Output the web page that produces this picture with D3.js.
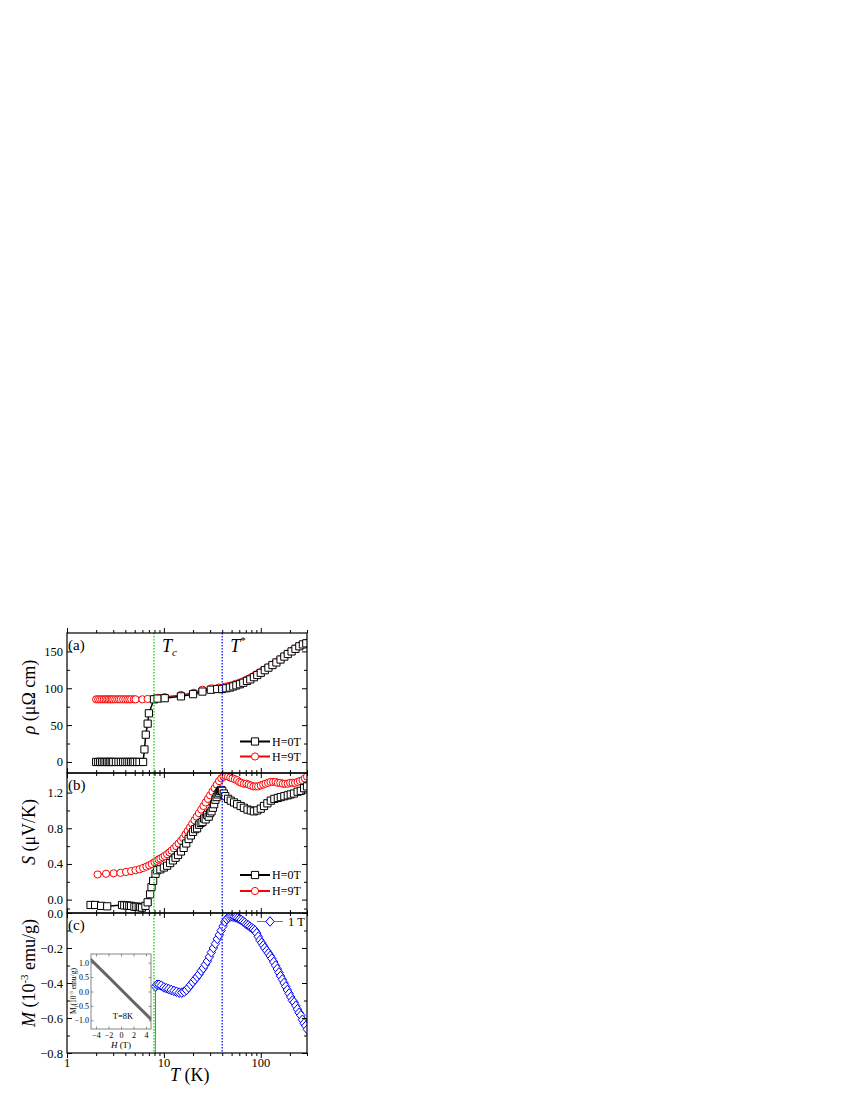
<!DOCTYPE html>
<html>
<head>
<meta charset="utf-8">
<script src="https://cdn.jsdelivr.net/npm/d3@7"></script>
<style>
  body { margin: 0; background: #fff; }
  svg text { font-family: "Liberation Serif", "DejaVu Serif", serif !important; fill: #000; }
</style>
</head>
<body>
<div id="chart"></div>
<script>
// ---- data ----
var tempRhoH0 = [2.0,2.1,2.2,2.3,2.4,2.5,2.6,2.7,2.8,2.9,3.0,3.2,3.4,3.6,3.8,4.0,4.2,4.4,4.6,4.8,5.0,5.3,5.6,6.1,6.3,6.5,6.8,7.0,7.9,8.6,10.2,15,20,25,30.5,35.5,40,44,48,52,56,61,66,72,78,85,92,100,110,120,132,145,160,175,190,208,228,250,272,295];
var rhoH0 = [0,0,0,0,0,0,0,0,0,0,0,0,0,0,0,0,0,0,0,0,0,0,0,0,17,37,52,66,85,86,86.5,89,92,95.5,98,99,99,100,101,102.5,104,105.5,107.5,110,112,115,118,121,124.5,128,131.5,135,139,143,146.5,150,153.5,157,159.5,161];
var tempRhoH9 = [2.0,2.1,2.2,2.3,2.4,2.5,2.6,2.7,2.8,2.9,3.0,3.15,3.3,3.45,3.6,3.8,4.0,4.2,4.4,4.6,4.9,5.1,6.0,6.8,7.9,8.8,10.2,15,20.4,25,31,37,42,46,50,55,60,66,72,79,87,95,105,116,128,142,157,173,190,210,232,255,280,300];
var rhoH9 = [85,85,85,85,85,85,85,85,85,85,85,85,85,85,85,85,85,85,85,85,85,85,85,85.5,86,87,88,91,94,98,100,101,102,103,104,106,107.5,109.5,112,114.5,117.5,120.5,124,127.5,131,135,139,143,147,151,154.5,157.5,160,162];

var tempSH0 = [1.75,1.95,2.25,2.6,3.7,3.9,4.17,4.4,4.59,4.96,5.2,5.5,5.7,5.95,6.45,6.8,7.2,7.45,7.75,8.2,8.5,9.2,10,10.8,11.6,12.4,13.2,14,15,16,17,18,19,20,21,22,23,24,25,26,27,28,29,30,31,32,33,34,35,36,37,38,39,40,41.5,43,46,49,53,57,62,67,73,79,85,92,100,108,117,127,138,150,161,175,190,204,220,240,259,280,300];
var sH0 = [-0.06,-0.06,-0.07,-0.075,-0.06,-0.065,-0.065,-0.07,-0.07,-0.08,-0.08,-0.08,-0.085,-0.09,-0.07,-0.03,0.06,0.14,0.21,0.29,0.33,0.34,0.36,0.38,0.41,0.44,0.47,0.5,0.54,0.58,0.63,0.68,0.72,0.76,0.79,0.80,0.84,0.86,0.87,0.91,0.90,0.95,0.93,0.97,0.99,1.03,1.07,1.12,1.15,1.18,1.20,1.22,1.23,1.22,1.19,1.16,1.13,1.11,1.09,1.07,1.05,1.03,1.01,1.0,0.99,1.0,1.02,1.05,1.08,1.11,1.13,1.14,1.15,1.16,1.17,1.18,1.19,1.21,1.22,1.25,1.27];
var tempSH9 = [2.07,2.53,3.03,3.56,4.07,4.59,5.09,5.6,6.1,6.6,7.05,7.5,8.0,8.4,8.8,9.2,9.7,10.2,10.8,11.4,12.0,12.7,13.4,14.2,15.0,15.8,16.7,17.6,18.6,19.6,20.7,21.8,23.0,24.3,25.6,27.0,28.5,30.0,31.7,33.4,35.2,37.1,39.1,41.2,43.5,45.9,48.4,51,54,57,60,63,67,71,75,79,84,89,94,100,106,112,119,126,134,142,150,159,169,179,190,201,213,226,240,254,270,285,300];
var sH9 = [0.282,0.29,0.295,0.30,0.31,0.32,0.33,0.34,0.355,0.37,0.385,0.40,0.42,0.435,0.45,0.46,0.475,0.49,0.51,0.53,0.55,0.575,0.60,0.63,0.66,0.69,0.73,0.77,0.81,0.85,0.89,0.93,0.97,1.01,1.05,1.09,1.13,1.17,1.21,1.25,1.29,1.33,1.36,1.38,1.385,1.38,1.37,1.36,1.35,1.34,1.32,1.31,1.30,1.30,1.29,1.28,1.27,1.27,1.27,1.28,1.29,1.30,1.31,1.32,1.32,1.32,1.31,1.31,1.30,1.30,1.30,1.31,1.31,1.31,1.32,1.33,1.34,1.36,1.38];

var tempM = [8.1,8.2,8.5,8.9,9.4,10,10.6,11.2,11.9,12.7,13.5,14.4,15.3,16.2,17.1,18.0,18.9,19.9,20.9,22,23.1,24.3,25.5,26.8,28.1,29.5,30.9,32.4,34,35.6,37.3,39,40.8,42.6,44.5,46.5,48.6,50.8,53,55.3,57.7,60.2,62.8,65.5,68.3,71.2,74.2,77.3,80.5,83.8,87.2,90.7,94.3,98,102,106,110,115,120,125,130,136,142,148,154,160,167,174,181,188,196,204,212,221,230,239,249,259,269,280,291,302];
var magM = [-1.5,-0.42,-0.41,-0.41,-0.415,-0.425,-0.43,-0.435,-0.44,-0.445,-0.45,-0.455,-0.455,-0.45,-0.44,-0.425,-0.41,-0.395,-0.38,-0.365,-0.35,-0.33,-0.315,-0.295,-0.275,-0.25,-0.225,-0.2,-0.175,-0.148,-0.125,-0.1,-0.075,-0.05,-0.035,-0.025,-0.02,-0.02,-0.022,-0.025,-0.03,-0.035,-0.04,-0.048,-0.055,-0.065,-0.07,-0.078,-0.085,-0.092,-0.1,-0.115,-0.135,-0.155,-0.17,-0.185,-0.2,-0.215,-0.23,-0.245,-0.26,-0.28,-0.3,-0.32,-0.34,-0.36,-0.38,-0.4,-0.42,-0.44,-0.46,-0.48,-0.5,-0.51,-0.53,-0.55,-0.57,-0.585,-0.61,-0.63,-0.645,-0.665];

var insetH = [-4.8,-4,-2,0,2,4,4.8];
var insetMUp = [1.13,0.96,0.53,0.10,-0.33,-0.76,-0.93];
var insetMDown = [1.07,0.90,0.47,0.04,-0.39,-0.82,-0.99];

var tcTemp = 7.9, tStarTemp = 40;

var xMajor = [1, 10, 100];
var xMinor = [2,3,4,5,6,7,8,9,20,30,40,50,60,70,80,90,200,300];
var rhoTicks = [0, 50, 100, 150], rhoMinor = [25, 75, 125];
var sTicks = [0.0, 0.4, 0.8, 1.2], sMinor = [-0.1, 0.2, 0.6, 1.0];
var mTicks = [-0.8, -0.6, -0.4, -0.2, 0.0], mMinor = [-0.7, -0.5, -0.3, -0.1];
var insetXTicks = [-4, -2, 0, 2, 4], insetYTicks = [-1.0, -0.5, 0.0, 0.5, 1.0];

// ---- layout ----
var width = 850, height = 1100;
var svg = d3.select("#chart").append("svg")
  .attr("width", width).attr("height", height)
  .attr("font-family", "Liberation Serif, DejaVu Serif, serif");

var x = d3.scaleLog().domain([1, 300]).range([67, 307]);
var panels = [
  {y: d3.scaleLinear().domain([-15, 175]).range([773, 633]), top: 633, bot: 773, major: rhoTicks, minor: rhoMinor, fmt: d3.format("d")},
  {y: d3.scaleLinear().domain([-0.15, 1.42]).range([913, 773]), top: 773, bot: 913, major: sTicks, minor: sMinor, fmt: d3.format(".1f")},
  {y: d3.scaleLinear().domain([-0.8, 0]).range([1053, 913]), top: 913, bot: 1053, major: mTicks, minor: mMinor, fmt: d3.format(".1f")}
];

function pairs(xs, ys) { return xs.map(function(t, i){ return [t, ys[i]]; }); }

panels.forEach(function(p, k) {
  svg.append("clipPath").attr("id", "clip" + k)
    .append("rect").attr("x", 67).attr("y", p.top).attr("width", 240).attr("height", p.bot - p.top);
  p.g = svg.append("g").attr("clip-path", "url(#clip" + k + ")");
});

var squarePath = "M-3.6,-3.6H3.6V3.6H-3.6Z";
var circlePath = d3.symbol().type(d3.symbolCircle).size(Math.PI * 3.6 * 3.6)();
var diamondPath = "M0,-4.8L4.2,0L0,4.8L-4.2,0Z";

function series(g, yScale, data, color, lineColor, shape) {
  var line = d3.line().x(function(d){ return x(d[0]); }).y(function(d){ return yScale(d[1]); });
  g.append("path").datum(data).attr("d", line)
    .attr("fill", "none").attr("stroke", lineColor).attr("stroke-width", 1.5);
  g.selectAll(null).data(data).enter().append("path")
    .attr("d", shape)
    .attr("transform", function(d){ return "translate(" + x(d[0]) + "," + yScale(d[1]) + ")"; })
    .attr("fill", "#fff").attr("stroke", color).attr("stroke-width", 1);
}

series(panels[0].g, panels[0].y, pairs(tempRhoH9, rhoH9), "#ff0000", "#ff0000", circlePath);
series(panels[0].g, panels[0].y, pairs(tempRhoH0, rhoH0), "#000", "#000", squarePath);
series(panels[1].g, panels[1].y, pairs(tempSH9, sH9), "#ff0000", "#ff0000", circlePath);
series(panels[1].g, panels[1].y, pairs(tempSH0, sH0), "#000", "#000", squarePath);
(function() {
  var g = panels[2].g, y = panels[2].y, data = pairs(tempM, magM);
  g.append("path").datum(data)
    .attr("d", d3.line().x(function(d){ return x(d[0]); }).y(function(d){ return y(d[1]); }))
    .attr("fill", "none").attr("stroke", "#777").attr("stroke-width", 1);
  g.selectAll(null).data(data).enter().append("path")
    .attr("d", diamondPath)
    .attr("transform", function(d){ return "translate(" + x(d[0]) + "," + y(d[1]) + ")"; })
    .attr("fill", "#fff").attr("stroke", "#0000ff").attr("stroke-width", 1);
})();

// reference lines (dotted) at Tc and T*
var refLines = svg.append("g");
[[tcTemp, "#22dd22"], [tStarTemp, "#2020ff"]].forEach(function(d) {
  var xp = x(d[0]);
  refLines.append("line")
    .attr("x1", xp).attr("x2", xp)
    .attr("y1", 633).attr("y2", 1053)
    .attr("stroke", d[1]).attr("stroke-width", 1.4)
    .attr("stroke-dasharray", "1.6,1.4");
});

// axes (ticks pointing inward on all sides)
panels.forEach(function(p, k) {
  var g = svg.append("g");
  function ax(axis, tx, ty) {
    var a = g.append("g").attr("transform", "translate(" + tx + "," + ty + ")").call(axis);
    a.attr("font-family", null);
    a.select(".domain").remove();
    a.selectAll("line").attr("stroke", "#000").attr("stroke-width", 1);
    return a;
  }
  var left = ax(d3.axisLeft(p.y).tickValues(p.major).tickSize(-5).tickPadding(4).tickFormat(p.fmt), 67, 0);
  left.selectAll("text").style("font-size", "12.5px").attr("fill", "#000");
  ax(d3.axisLeft(p.y).tickValues(p.minor).tickSize(-3).tickFormat(""), 67, 0);
  ax(d3.axisRight(p.y).tickValues(p.major).tickSize(-5).tickFormat(""), 307, 0);
  ax(d3.axisRight(p.y).tickValues(p.minor).tickSize(-3).tickFormat(""), 307, 0);
  ax(d3.axisTop(x).tickValues(xMajor).tickSize(-5).tickFormat(""), 0, p.bot);
  ax(d3.axisTop(x).tickValues(xMinor).tickSize(-3).tickFormat(""), 0, p.bot);
  ax(d3.axisBottom(x).tickValues(xMajor).tickSize(-5).tickFormat(""), 0, p.top);
  ax(d3.axisBottom(x).tickValues(xMinor).tickSize(-3).tickFormat(""), 0, p.top);
  g.append("rect").attr("x", 67).attr("y", p.top).attr("width", 240).attr("height", p.bot - p.top)
    .attr("fill", "none").attr("stroke", "#000").attr("stroke-width", 1.2);
  g.append("text").attr("x", 68).attr("y", p.top + 17).style("font-size", "15px")
    .text(["(a)", "(b)", "(c)"][k]);
});

// x tick labels
svg.selectAll(".xlab").data(xMajor).enter().append("text")
  .attr("x", function(d){ return x(d); }).attr("y", 1067)
  .attr("text-anchor", "middle").style("font-size", "12.5px")
  .text(function(d){ return d; });

// axis titles
var xt = svg.append("text").attr("x", 170).attr("y", 1081).style("font-size", "18px");
xt.append("tspan").style("font-style", "italic").text("T");
xt.append("tspan").text(" (K)");

function yTitle(cy, build) {
  var t = svg.append("text").attr("transform", "translate(35," + cy + ") rotate(-90)")
    .attr("text-anchor", "middle").style("font-size", "18px");
  build(t);
}
yTitle(697, function(t) {
  t.append("tspan").style("font-style", "italic").text("ρ");
  t.append("tspan").text(" (μΩ cm)");
});
yTitle(832, function(t) {
  t.append("tspan").style("font-style", "italic").text("S");
  t.append("tspan").text(" (μV/K)");
});
yTitle(973, function(t) {
  t.append("tspan").style("font-style", "italic").text("M");
  t.append("tspan").text(" (10");
  t.append("tspan").attr("dy", -7).style("font-size", "11px").text("-3");
  t.append("tspan").attr("dy", 7).text(" emu/g)");
});

// Tc and T* labels
var tc = svg.append("text").attr("x", x(tcTemp) + 8).attr("y", 652).style("font-size", "18px");
tc.append("tspan").style("font-style", "italic").text("T");
tc.append("tspan").attr("dy", 4).style("font-size", "11px").style("font-style", "italic").text("c");
var ts = svg.append("text").attr("x", x(tStarTemp) + 8).attr("y", 652).style("font-size", "18px");
ts.append("tspan").style("font-style", "italic").text("T");
ts.append("tspan").attr("dy", -8).style("font-size", "11px").text("*");

// legends
function legendRow(yPos, x0, x1, shape, color, lineColor, label) {
  svg.append("line").attr("x1", x0).attr("x2", x1).attr("y1", yPos).attr("y2", yPos)
    .attr("stroke", lineColor).attr("stroke-width", 2);
  svg.append("path").attr("d", shape).attr("transform", "translate(" + ((x0 + x1) / 2) + "," + yPos + ")")
    .attr("fill", "#fff").attr("stroke", color).attr("stroke-width", 1);
  svg.append("text").attr("x", x1 + 2).attr("y", yPos).attr("dy", "0.35em")
    .style("font-size", "12px").text(label);
}
legendRow(741.5, 240, 270, squarePath, "#000", "#000", "H=0T");
legendRow(756.5, 240, 270, circlePath, "#ff0000", "#ff0000", "H=9T");
legendRow(875, 240, 270, squarePath, "#000", "#000", "H=0T");
legendRow(891, 240, 270, circlePath, "#ff0000", "#ff0000", "H=9T");
(function() {
  svg.append("line").attr("x1", 257).attr("x2", 283).attr("y1", 921.5).attr("y2", 921.5)
    .attr("stroke", "#777").attr("stroke-width", 1);
  svg.append("path").attr("d", diamondPath).attr("transform", "translate(270,921.5)")
    .attr("fill", "#fff").attr("stroke", "#0000ff").attr("stroke-width", 1);
  svg.append("text").attr("x", 288).attr("y", 921.5).attr("dy", "0.35em")
    .style("font-size", "12.5px").text("1 T");
})();

// inset M(H) at 8 K
(function() {
  var xi = d3.scaleLinear().domain([-4.8, 4.8]).range([91, 151]);
  var yi = d3.scaleLinear().domain([-1.3, 1.3]).range([1029, 954]);
  var g = svg.append("g");
  g.append("rect").attr("x", 91).attr("y", 954).attr("width", 60).attr("height", 75)
    .attr("fill", "#fff").attr("stroke", "#666").attr("stroke-width", 0.8);
  var line = d3.line().x(function(d){ return xi(d[0]); }).y(function(d){ return yi(d[1]); });
  [insetMUp, insetMDown].forEach(function(m) {
    g.append("path").datum(pairs(insetH, m)).attr("d", line)
      .attr("fill", "none").attr("stroke", "#666").attr("stroke-width", 1.8);
  });
  function iax(axis, tx, ty) {
    var a = g.append("g").attr("transform", "translate(" + tx + "," + ty + ")").call(axis);
    a.attr("font-family", null);
    a.select(".domain").remove();
    a.selectAll("line").attr("stroke", "#666").attr("stroke-width", 0.7);
    a.selectAll("text").style("font-size", "8px").attr("fill", "#000");
    return a;
  }
  iax(d3.axisBottom(xi).tickValues(insetXTicks).tickSize(-2.5).tickPadding(3).tickFormat(d3.format("d")), 0, 1029);
  iax(d3.axisLeft(yi).tickValues(insetYTicks).tickSize(-2.5).tickPadding(2).tickFormat(d3.format(".1f")), 91, 0);
  iax(d3.axisTop(xi).tickValues(insetXTicks).tickSize(-2.5).tickFormat(""), 0, 954);
  iax(d3.axisRight(yi).tickValues(insetYTicks).tickSize(-2.5).tickFormat(""), 151, 0);
  var hx = g.append("text").attr("x", 121).attr("y", 1048).attr("text-anchor", "middle").style("font-size", "9px");
  hx.append("tspan").style("font-style", "italic").text("H");
  hx.append("tspan").text(" (T)");
  var my = g.append("text").attr("transform", "translate(76,991) rotate(-90)")
    .attr("text-anchor", "middle").style("font-size", "7.5px");
  my.append("tspan").text("M (10");
  my.append("tspan").attr("dy", -3).style("font-size", "5px").text("-3");
  my.append("tspan").attr("dy", 3).text(" emu/g)");
  g.append("text").attr("x", 123).attr("y", 1019).attr("text-anchor", "middle")
    .style("font-size", "8.5px").text("T=8K");
})();
</script>
</body>
</html>
